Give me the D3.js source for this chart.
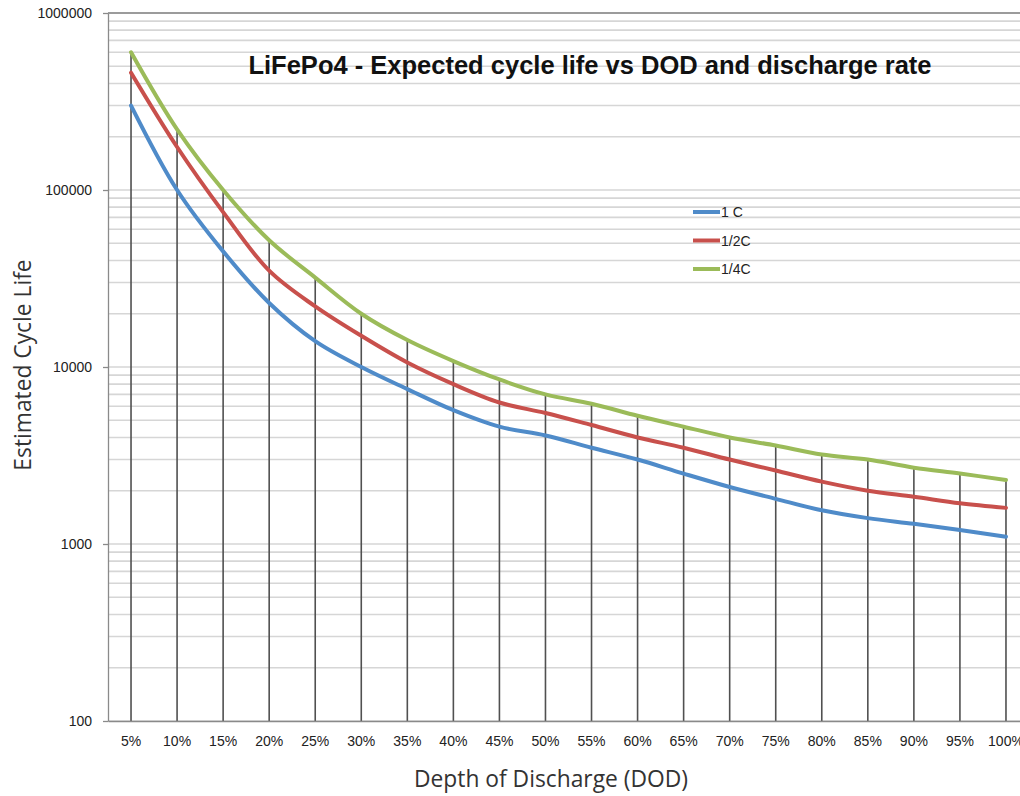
<!DOCTYPE html>
<html>
<head>
<meta charset="utf-8">
<script src="https://cdn.jsdelivr.net/npm/d3@7"></script>
<style>
  html, body { margin: 0; padding: 0; background: #fff; }
  svg { display: block; }
</style>
</head>
<body>
<svg id="chart" width="1020" height="796"></svg>
<script>
// Depth of discharge categories
const categories = ["5%","10%","15%","20%","25%","30%","35%","40%","45%","50%",
                    "55%","60%","65%","70%","75%","80%","85%","90%","95%","100%"];

// Estimated cycle life for each discharge rate
const rate1C  = [300000,100000,45000,23000,14000,10000,7500,5700,4600,4100,
                 3500,3000,2500,2100,1800,1550,1400,1300,1200,1100];
const rateHalfC = [460000,175000,75000,35000,22000,15000,10600,8000,6300,5500,
                   4700,4000,3500,3000,2600,2250,2000,1850,1700,1600];
const rateQuarterC = [600000,220000,100000,52000,32000,20000,14200,10800,8500,7000,
                      6200,5300,4600,4000,3600,3200,3000,2700,2500,2300];

const seriesNames = ["1 C", "1/2C", "1/4C"];
const yTickValues = [100, 1000, 10000, 100000, 1000000];

const colors = ["#4f8bc9", "#c8504c", "#9bbb59"];
const seriesData = [rate1C, rateHalfC, rateQuarterC];

const svg = d3.select("#chart");
const margin = { left: 108, top: 13, right: 1029, bottom: 721 };

const x = d3.scaleBand().domain(categories).range([margin.left, margin.right]);
const xc = c => x(c) + x.bandwidth() / 2;
const y = d3.scaleLog().domain([100, 1000000]).range([margin.bottom, margin.top]);

// Minor and major horizontal gridlines (1..9 x 10^k)
const gridVals = [];
for (let k = 2; k <= 5; k++) {
  for (let m = 1; m <= 9; m++) gridVals.push(m * Math.pow(10, k));
}
gridVals.push(1000000);

svg.append("g").selectAll("line").data(gridVals).join("line")
  .attr("x1", margin.left).attr("x2", 1020)
  .attr("y1", d => y(d)).attr("y2", d => y(d))
  .attr("stroke", d => d === 1000000 ? "#7a7a7a" : "#d6d6d6")
  .attr("stroke-width", d => d === 1000000 ? 1.3 : 1.6);

// Drop lines from the highest series value down to the category axis
const dropTop = categories.map((c, i) => d3.max(seriesData, s => s[i]));
svg.append("g").selectAll("line").data(categories).join("line")
  .attr("x1", d => xc(d)).attr("x2", d => xc(d))
  .attr("y1", (d, i) => y(dropTop[i])).attr("y2", margin.bottom)
  .attr("stroke", "#505050").attr("stroke-width", 1.6);

// Value axis
const yAxis = d3.axisLeft(y).tickValues(yTickValues).tickFormat(d3.format("d"))
  .tickSizeInner(5).tickSizeOuter(0).tickPadding(11);
const gy = svg.append("g").attr("transform", `translate(${margin.left},0)`).call(yAxis);
gy.select(".domain").attr("stroke", "#8a8a8a").attr("stroke-width", 1.3);
gy.selectAll(".tick line").attr("stroke", "#8a8a8a").attr("stroke-width", 1.3);
gy.selectAll("text").attr("font-family", "Liberation Sans, Arial, sans-serif")
  .attr("font-size", 14).attr("fill", "#222");

// Category axis
const xAxis = d3.axisBottom(x).tickSize(0).tickPadding(15);
const gx = svg.append("g").attr("transform", `translate(0,${margin.bottom})`).call(xAxis);
gx.select(".domain").attr("stroke", "#8a8a8a").attr("stroke-width", 1.3);
gx.selectAll("text").attr("font-family", "Liberation Sans, Arial, sans-serif")
  .attr("font-size", 14).attr("fill", "#222");

// Series curves
const line = d3.line()
  .x((d, i) => xc(categories[i]))
  .y(d => y(d))
  .curve(d3.curveCatmullRom.alpha(0.5));

svg.append("g").selectAll("path").data(seriesData).join("path")
  .attr("d", d => line(d))
  .attr("fill", "none")
  .attr("stroke", (d, i) => colors[i])
  .attr("stroke-width", 4)
  .attr("stroke-linejoin", "round")
  .attr("stroke-linecap", "round");

// Title
svg.append("text")
  .attr("x", 590).attr("y", 74)
  .attr("text-anchor", "middle")
  .attr("font-family", "Liberation Sans, Arial, sans-serif")
  .attr("font-weight", "bold")
  .attr("font-size", 25.5)
  .attr("fill", "#111")
  .text("LiFePo4 - Expected cycle life vs DOD and discharge rate");

// Legend
const legend = svg.append("g").attr("transform", "translate(693,212)");
const items = legend.selectAll("g").data(seriesNames).join("g")
  .attr("transform", (d, i) => `translate(0,${i * 28.5})`);
items.append("line")
  .attr("x1", 0).attr("x2", 27).attr("y1", 0).attr("y2", 0)
  .attr("stroke", (d, i) => colors[i]).attr("stroke-width", 4);
items.append("text")
  .attr("x", 28).attr("y", 0).attr("dy", "0.36em")
  .attr("font-family", "Liberation Sans, Arial, sans-serif")
  .attr("font-size", 14).attr("fill", "#222")
  .text(d => d);

// Axis titles
svg.append("text")
  .attr("transform", "translate(31,365) rotate(-90)")
  .attr("text-anchor", "middle")
  .attr("font-family", "Open Sans, sans-serif")
  .attr("font-size", 22.8).attr("fill", "#333")
  .text("Estimated Cycle Life");

svg.append("text")
  .attr("x", 551).attr("y", 787)
  .attr("text-anchor", "middle")
  .attr("font-family", "Open Sans, sans-serif")
  .attr("font-size", 22.8).attr("fill", "#333")
  .text("Depth of Discharge (DOD)");
</script>
</body>
</html>
